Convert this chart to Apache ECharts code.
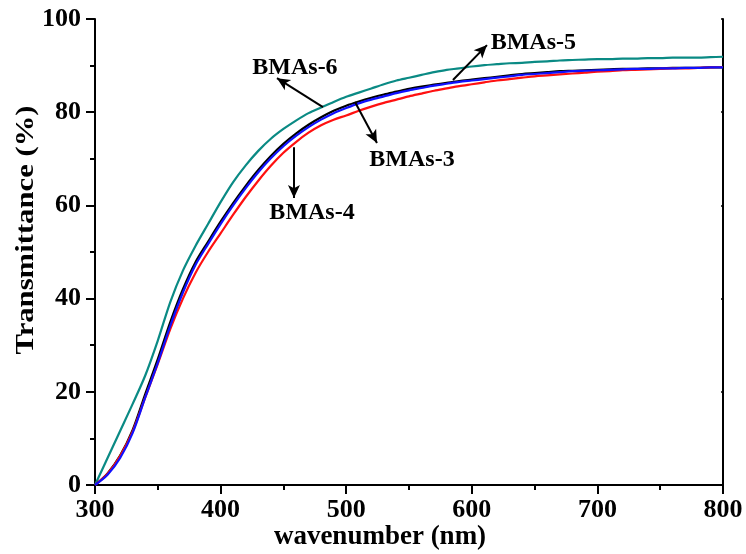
<!DOCTYPE html>
<html>
<head>
<meta charset="utf-8">
<script src="https://cdn.jsdelivr.net/npm/echarts@6/dist/echarts.min.js"></script>
<style>html,body{margin:0;padding:0;background:#fff}#c{width:746px;height:554px}</style>
</head>
<body>
<div id="c"></div>
<script>
var wavelengths = [300,310,320,330,340,350,360,370,380,390,400,410,420,430,440,450,460,470,480,490,500,510,520,530,540,550,560,570,580,590,600,610,620,630,640,650,660,670,680,690,700,710,720,730,740,750,760,770,780,790,800];
var bmas6 = [0,5.8,11.6,17.4,23.5,31,39.3,46,51.3,56,60.7,65,68.6,71.7,74.3,76.4,78.2,79.8,81,82.2,83.3,84.2,85.1,86,86.8,87.4,88,88.6,89.1,89.4,89.8,90.1,90.3,90.5,90.6,90.8,90.9,91.1,91.2,91.3,91.4,91.4,91.5,91.5,91.6,91.6,91.7,91.7,91.7,91.8,91.9];
var bmas3 = [0,2.5,6.3,11.8,19.5,27,35,42,47.8,52.2,56.5,60.5,64.2,67.6,70.6,73.2,75.4,77.3,78.9,80.3,81.4,82.3,83.1,83.8,84.4,85,85.5,85.9,86.3,86.7,87,87.3,87.6,87.9,88.2,88.4,88.6,88.8,88.9,89,89.1,89.2,89.3,89.3,89.4,89.4,89.5,89.5,89.5,89.6,89.6];
var bmas4 = [0,2.4,6.2,11.5,18.8,26,33.5,40,45.5,50,54,58,61.8,65.3,68.5,71.3,73.6,75.6,77.2,78.4,79.3,80.3,81.2,82,82.7,83.4,84,84.6,85.1,85.6,86,86.4,86.8,87.1,87.4,87.7,87.9,88.1,88.3,88.5,88.7,88.8,89,89.1,89.2,89.3,89.4,89.4,89.5,89.6,89.7];
var bmas5 = [0,2.2,5.8,11.2,18.8,26.2,34.2,41.3,47.2,51.7,56,60,63.7,67.1,70.1,72.7,74.9,76.8,78.4,79.8,80.9,81.9,82.7,83.4,84.1,84.7,85.2,85.7,86.1,86.5,86.8,87.1,87.4,87.7,88,88.2,88.4,88.6,88.8,88.9,89,89.1,89.2,89.3,89.3,89.4,89.4,89.5,89.5,89.6,89.6];
var xTicks = [300,400,500,600,700,800];
var yTicks = [0,20,40,60,80,100];
// annotations: label, arrow tail, arrow head, label anchor (data coords)
var annNames = ['BMAs-6','BMAs-5','BMAs-3','BMAs-4'];
var annTail = [[481.5,81.1],[585,86.9],[507,82.2],[458.4,72.5]];
var annHead = [[444.9,87.3],[612.1,94.4],[524.5,73.4],[458.4,61.6]];
var annText = [[459.2,89.5],[649,94.9],[552.4,69.7],[472.8,58.4]];

function pair(ys){return wavelengths.map(function(x,i){return [x,ys[i]];});}
var FONT = '"Liberation Serif","Times New Roman",serif';
var chart = echarts.init(document.getElementById('c'));
var axCommon = {
  axisLine:{show:true,lineStyle:{color:'#000',width:2}},
  splitLine:{show:false}
};
var arrowData = annTail.map(function(t,i){return [{coord:t},{coord:annHead[i]}];});
chart.setOption({
  animation:false,
  backgroundColor:'#fff',
  grid:{left:95,right:23,top:19,bottom:69,outerBoundsMode:'none',containLabel:false},
  xAxis:[
    Object.assign({type:'value',min:300,max:800,interval:100,position:'bottom',
      axisTick:{show:true,length:9,inside:false,lineStyle:{color:'#000',width:2}},
      minorTick:{show:true,splitNumber:2,length:5,lineStyle:{color:'#000',width:2}},
      axisLabel:{margin:12,color:'#000',fontFamily:FONT,fontWeight:'bold',fontSize:26}
    },axCommon),
    Object.assign({type:'value',min:300,max:800,interval:100,position:'top',
      axisTick:{show:true,length:2,inside:true,lineStyle:{color:'#000',width:1.5}},
      axisLabel:{show:false}},axCommon)
  ],
  yAxis:[
    Object.assign({type:'value',min:0,max:100,interval:20,position:'left',
      axisTick:{show:true,length:9,inside:false,lineStyle:{color:'#000',width:2}},
      minorTick:{show:true,splitNumber:2,length:5,lineStyle:{color:'#000',width:2}},
      axisLabel:{margin:14,color:'#000',fontFamily:FONT,fontWeight:'bold',fontSize:26}
    },axCommon),
    Object.assign({type:'value',min:0,max:100,interval:20,position:'right',
      axisTick:{show:true,length:2,inside:true,lineStyle:{color:'#000',width:1.5}},
      axisLabel:{show:false}},axCommon)
  ],
  series:[
    {name:'BMAs-6',type:'line',data:pair(bmas6),showSymbol:false,smooth:0.3,lineStyle:{color:'#0a8a84',width:2.2},
     markLine:{silent:true,symbol:['none','arrow'],symbolSize:[9,13],lineStyle:{color:'#000',width:2,type:'solid'},label:{show:false},data:arrowData}},
    {name:'BMAs-3',type:'line',data:pair(bmas3),showSymbol:false,smooth:0.3,lineStyle:{color:'#000',width:2.2}},
    {name:'BMAs-4',type:'line',data:pair(bmas4),showSymbol:false,smooth:0.3,lineStyle:{color:'#ff1010',width:2.2}},
    {name:'BMAs-5',type:'line',data:pair(bmas5),showSymbol:false,smooth:0.3,lineStyle:{color:'#1010ff',width:2.2}}
  ]
});
var g = [];
annNames.forEach(function(n,i){
  var p = chart.convertToPixel({xAxisIndex:0,yAxisIndex:0},annText[i]);
  g.push({type:'text',x:p[0],y:p[1],style:{text:n,fill:'#000',font:'bold 24px '+FONT,align:'center',verticalAlign:'middle'}});
});
g.push({type:'text',x:26,y:230,rotation:Math.PI/2,scaleX:1.18,style:{text:'Transmittance (%)',fill:'#000',font:'bold 26px '+FONT,align:'center',verticalAlign:'middle'}});
g.push({type:'text',x:380,y:537,style:{text:'wavenumber (nm)',fill:'#000',font:'bold 27px '+FONT,align:'center',verticalAlign:'middle'}});
chart.setOption({graphic:g});
</script>
</body>
</html>
